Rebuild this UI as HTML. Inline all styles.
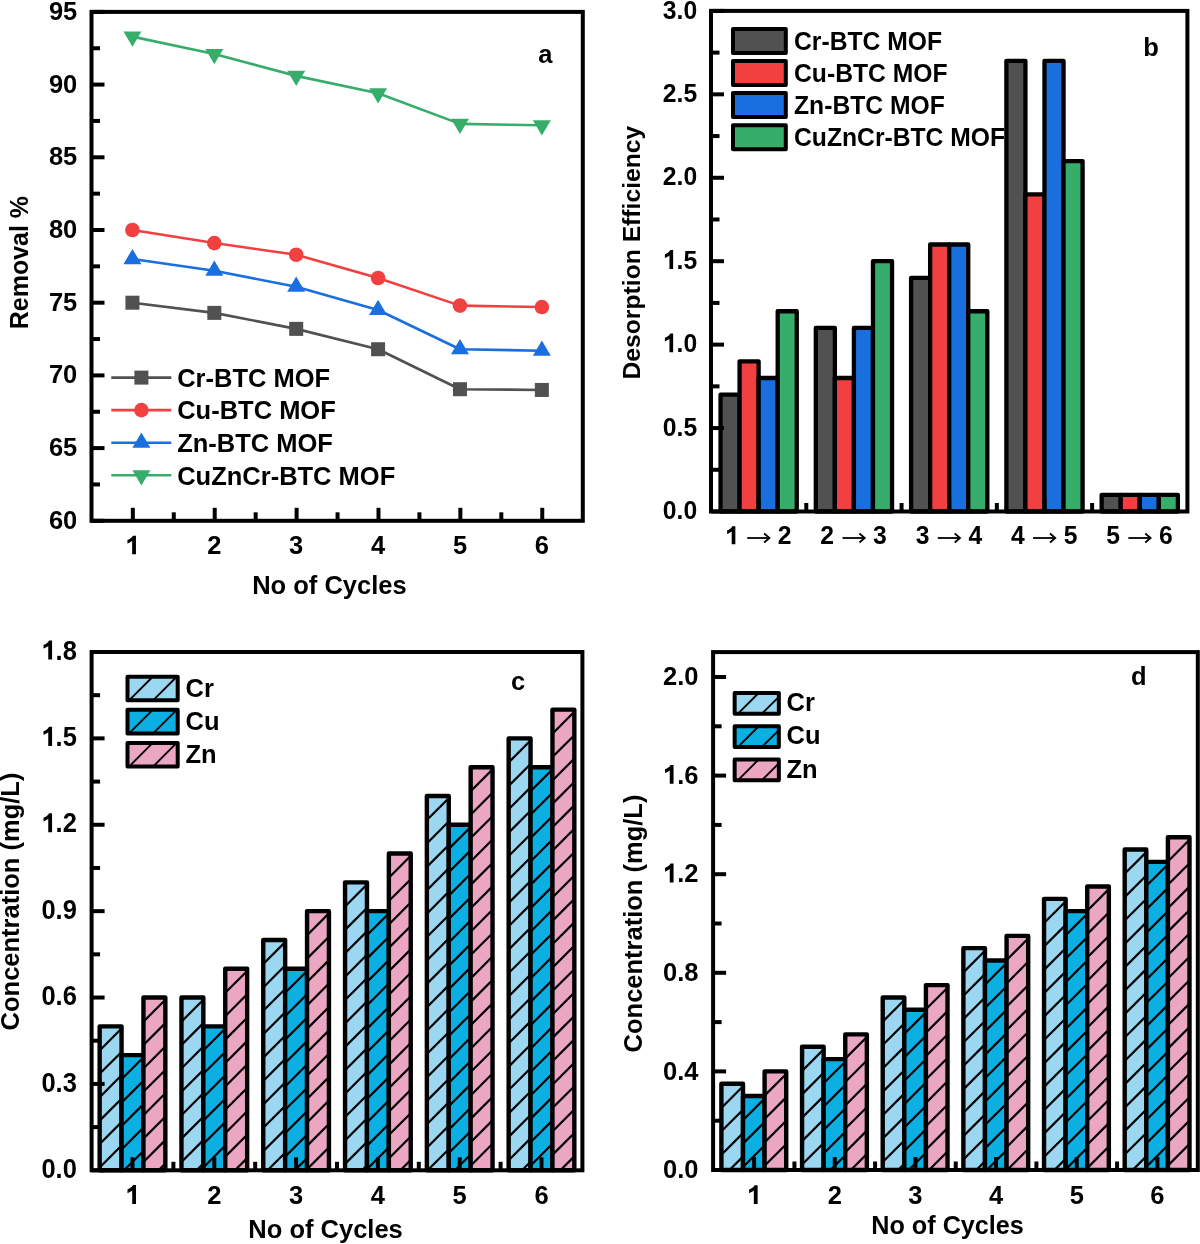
<!DOCTYPE html>
<html><head><meta charset="utf-8"><title>Figure</title>
<style>
html,body{margin:0;padding:0;background:#fff;}
body{width:1200px;height:1244px;overflow:hidden;font-family:"Liberation Sans",sans-serif;}
svg{display:block;will-change:transform;}
</style></head><body>
<svg width="1200" height="1244" viewBox="0 0 1200 1244">
<rect x="0" y="0" width="1200" height="1244" fill="#fff"/>
<line x1="91.5" y1="520.8" x2="104.5" y2="520.8" stroke="#000" stroke-width="4" stroke-linecap="butt"/>
<line x1="91.5" y1="448.1" x2="104.5" y2="448.1" stroke="#000" stroke-width="4" stroke-linecap="butt"/>
<line x1="91.5" y1="375.4" x2="104.5" y2="375.4" stroke="#000" stroke-width="4" stroke-linecap="butt"/>
<line x1="91.5" y1="302.7" x2="104.5" y2="302.7" stroke="#000" stroke-width="4" stroke-linecap="butt"/>
<line x1="91.5" y1="230" x2="104.5" y2="230" stroke="#000" stroke-width="4" stroke-linecap="butt"/>
<line x1="91.5" y1="157.3" x2="104.5" y2="157.3" stroke="#000" stroke-width="4" stroke-linecap="butt"/>
<line x1="91.5" y1="84.6" x2="104.5" y2="84.6" stroke="#000" stroke-width="4" stroke-linecap="butt"/>
<line x1="91.5" y1="11.9" x2="104.5" y2="11.9" stroke="#000" stroke-width="4" stroke-linecap="butt"/>
<line x1="91.5" y1="484.45" x2="100" y2="484.45" stroke="#000" stroke-width="4" stroke-linecap="butt"/>
<line x1="91.5" y1="411.75" x2="100" y2="411.75" stroke="#000" stroke-width="4" stroke-linecap="butt"/>
<line x1="91.5" y1="339.05" x2="100" y2="339.05" stroke="#000" stroke-width="4" stroke-linecap="butt"/>
<line x1="91.5" y1="266.35" x2="100" y2="266.35" stroke="#000" stroke-width="4" stroke-linecap="butt"/>
<line x1="91.5" y1="193.65" x2="100" y2="193.65" stroke="#000" stroke-width="4" stroke-linecap="butt"/>
<line x1="91.5" y1="120.95" x2="100" y2="120.95" stroke="#000" stroke-width="4" stroke-linecap="butt"/>
<line x1="91.5" y1="48.25" x2="100" y2="48.25" stroke="#000" stroke-width="4" stroke-linecap="butt"/>
<line x1="132.84" y1="520.8" x2="132.84" y2="507.8" stroke="#000" stroke-width="4" stroke-linecap="butt"/>
<line x1="214.72" y1="520.8" x2="214.72" y2="507.8" stroke="#000" stroke-width="4" stroke-linecap="butt"/>
<line x1="296.61" y1="520.8" x2="296.61" y2="507.8" stroke="#000" stroke-width="4" stroke-linecap="butt"/>
<line x1="378.49" y1="520.8" x2="378.49" y2="507.8" stroke="#000" stroke-width="4" stroke-linecap="butt"/>
<line x1="460.37" y1="520.8" x2="460.37" y2="507.8" stroke="#000" stroke-width="4" stroke-linecap="butt"/>
<line x1="542.26" y1="520.8" x2="542.26" y2="507.8" stroke="#000" stroke-width="4" stroke-linecap="butt"/>
<line x1="173.78" y1="520.8" x2="173.78" y2="512.3" stroke="#000" stroke-width="4" stroke-linecap="butt"/>
<line x1="255.67" y1="520.8" x2="255.67" y2="512.3" stroke="#000" stroke-width="4" stroke-linecap="butt"/>
<line x1="337.55" y1="520.8" x2="337.55" y2="512.3" stroke="#000" stroke-width="4" stroke-linecap="butt"/>
<line x1="419.43" y1="520.8" x2="419.43" y2="512.3" stroke="#000" stroke-width="4" stroke-linecap="butt"/>
<line x1="501.32" y1="520.8" x2="501.32" y2="512.3" stroke="#000" stroke-width="4" stroke-linecap="butt"/>
<polyline points="132.44,302.7 214.32,312.88 296.21,328.87 378.09,349.23 459.97,389.21 541.86,389.94" fill="none" stroke="#515151" stroke-width="2.6" stroke-linejoin="round"/>
<rect x="125.44" y="295.7" width="14" height="14" fill="#515151"/>
<rect x="207.32" y="305.88" width="14" height="14" fill="#515151"/>
<rect x="289.21" y="321.87" width="14" height="14" fill="#515151"/>
<rect x="371.09" y="342.23" width="14" height="14" fill="#515151"/>
<rect x="452.97" y="382.21" width="14" height="14" fill="#515151"/>
<rect x="534.86" y="382.94" width="14" height="14" fill="#515151"/>
<polyline points="132.44,230 214.32,243.09 296.21,254.72 378.09,277.98 459.97,305.61 541.86,307.06" fill="none" stroke="#F14040" stroke-width="2.6" stroke-linejoin="round"/>
<circle cx="132.44" cy="230" r="7.3" fill="#F14040"/>
<circle cx="214.32" cy="243.09" r="7.3" fill="#F14040"/>
<circle cx="296.21" cy="254.72" r="7.3" fill="#F14040"/>
<circle cx="378.09" cy="277.98" r="7.3" fill="#F14040"/>
<circle cx="459.97" cy="305.61" r="7.3" fill="#F14040"/>
<circle cx="541.86" cy="307.06" r="7.3" fill="#F14040"/>
<polyline points="132.44,259.08 214.32,270.71 296.21,286.71 378.09,309.97 459.97,349.23 541.86,350.68" fill="none" stroke="#1A6FDF" stroke-width="2.6" stroke-linejoin="round"/>
<path d="M132.44 248.88L141.44 264.18L123.44 264.18Z" fill="#1A6FDF"/>
<path d="M214.32 260.51L223.32 275.81L205.32 275.81Z" fill="#1A6FDF"/>
<path d="M296.21 276.51L305.21 291.81L287.21 291.81Z" fill="#1A6FDF"/>
<path d="M378.09 299.77L387.09 315.07L369.09 315.07Z" fill="#1A6FDF"/>
<path d="M459.97 339.03L468.97 354.33L450.97 354.33Z" fill="#1A6FDF"/>
<path d="M541.86 340.48L550.86 355.78L532.86 355.78Z" fill="#1A6FDF"/>
<polyline points="132.44,36.62 214.32,54.07 296.21,75.88 378.09,93.32 459.97,123.86 541.86,125.31" fill="none" stroke="#37AD6B" stroke-width="2.6" stroke-linejoin="round"/>
<path d="M132.44 46.82L141.44 31.52L123.44 31.52Z" fill="#37AD6B"/>
<path d="M214.32 64.27L223.32 48.97L205.32 48.97Z" fill="#37AD6B"/>
<path d="M296.21 86.08L305.21 70.78L287.21 70.78Z" fill="#37AD6B"/>
<path d="M378.09 103.52L387.09 88.22L369.09 88.22Z" fill="#37AD6B"/>
<path d="M459.97 134.06L468.97 118.76L450.97 118.76Z" fill="#37AD6B"/>
<path d="M541.86 135.51L550.86 120.21L532.86 120.21Z" fill="#37AD6B"/>
<rect x="91.5" y="11.9" width="491.3" height="508.9" fill="none" stroke="#000" stroke-width="4" stroke-linejoin="miter"/>
<line x1="111.3" y1="377.6" x2="171.3" y2="377.6" stroke="#515151" stroke-width="2.6" stroke-linecap="butt"/>
<rect x="134.4" y="370.6" width="14" height="14" fill="#515151"/>
<text transform="translate(177.2 386.9) scale(1 1.03)" font-size="25.5" font-family="Liberation Sans" font-weight="bold">Cr-BTC MOF</text>
<line x1="111.3" y1="410.15" x2="171.3" y2="410.15" stroke="#F14040" stroke-width="2.6" stroke-linecap="butt"/>
<circle cx="141.4" cy="410.15" r="7.3" fill="#F14040"/>
<text transform="translate(177.2 419.45) scale(1 1.03)" font-size="25.5" font-family="Liberation Sans" font-weight="bold">Cu-BTC MOF</text>
<line x1="111.3" y1="442.7" x2="171.3" y2="442.7" stroke="#1A6FDF" stroke-width="2.6" stroke-linecap="butt"/>
<path d="M141.4 432.5L150.4 447.8L132.4 447.8Z" fill="#1A6FDF"/>
<text transform="translate(177.2 452) scale(1 1.03)" font-size="25.5" font-family="Liberation Sans" font-weight="bold">Zn-BTC MOF</text>
<line x1="111.3" y1="475.25" x2="171.3" y2="475.25" stroke="#37AD6B" stroke-width="2.6" stroke-linecap="butt"/>
<path d="M141.4 485.45L150.4 470.15L132.4 470.15Z" fill="#37AD6B"/>
<text transform="translate(177.2 484.55) scale(1 1.03)" font-size="25.5" font-family="Liberation Sans" font-weight="bold">CuZnCr-BTC MOF</text>
<text transform="translate(48.94 528.8) scale(1 1.015)" font-size="25.5" font-family="Liberation Sans" font-weight="bold">60</text>
<text transform="translate(48.94 456.1) scale(1 1.015)" font-size="25.5" font-family="Liberation Sans" font-weight="bold">65</text>
<text transform="translate(48.94 383.4) scale(1 1.015)" font-size="25.5" font-family="Liberation Sans" font-weight="bold">70</text>
<text transform="translate(48.94 310.7) scale(1 1.015)" font-size="25.5" font-family="Liberation Sans" font-weight="bold">75</text>
<text transform="translate(48.94 238) scale(1 1.015)" font-size="25.5" font-family="Liberation Sans" font-weight="bold">80</text>
<text transform="translate(48.94 165.3) scale(1 1.015)" font-size="25.5" font-family="Liberation Sans" font-weight="bold">85</text>
<text transform="translate(48.94 92.6) scale(1 1.015)" font-size="25.5" font-family="Liberation Sans" font-weight="bold">90</text>
<text transform="translate(48.94 19.9) scale(1 1.015)" font-size="25.5" font-family="Liberation Sans" font-weight="bold">95</text>
<text transform="translate(125.35 554.2) scale(1 1.015)" font-size="25.5" font-family="Liberation Sans" font-weight="bold"> </text><path transform="translate(132.44 554.2) scale(25.5 25.8825)" d="M-0.011 0L0.138 0L0.138 -0.716L0.02 -0.716C-0.02 -0.64 -0.10 -0.585 -0.196 -0.55L-0.196 -0.41C-0.12 -0.44 -0.05 -0.48 -0.011 -0.51Z"/>
<text transform="translate(207.23 554.2) scale(1 1.015)" font-size="25.5" font-family="Liberation Sans" font-weight="bold">2</text>
<text transform="translate(289.12 554.2) scale(1 1.015)" font-size="25.5" font-family="Liberation Sans" font-weight="bold">3</text>
<text transform="translate(371 554.2) scale(1 1.015)" font-size="25.5" font-family="Liberation Sans" font-weight="bold">4</text>
<text transform="translate(452.88 554.2) scale(1 1.015)" font-size="25.5" font-family="Liberation Sans" font-weight="bold">5</text>
<text transform="translate(534.77 554.2) scale(1 1.015)" font-size="25.5" font-family="Liberation Sans" font-weight="bold">6</text>
<text transform="translate(252.2 593.9) scale(1 1)" font-size="25.5" font-family="Liberation Sans" font-weight="bold">No of Cycles</text>
<g transform="translate(28.2 329.3) rotate(-90)"><text transform="translate(0 0) scale(1 1)" font-size="25" font-family="Liberation Sans" font-weight="bold">Removal %</text></g>
<text transform="translate(538.2 63.3) scale(1 1)" font-size="25.5" font-family="Liberation Sans" font-weight="bold">a</text>
<rect x="720.53" y="394.69" width="19.06" height="116.81" fill="#515151" stroke="#000" stroke-width="4.3" stroke-linejoin="round"/>
<rect x="739.58" y="361.32" width="19.06" height="150.18" fill="#F14040" stroke="#000" stroke-width="4.3" stroke-linejoin="round"/>
<rect x="758.64" y="378.01" width="19.06" height="133.49" fill="#1A6FDF" stroke="#000" stroke-width="4.3" stroke-linejoin="round"/>
<rect x="777.7" y="311.26" width="19.06" height="200.24" fill="#37AD6B" stroke="#000" stroke-width="4.3" stroke-linejoin="round"/>
<rect x="815.81" y="327.95" width="19.06" height="183.55" fill="#515151" stroke="#000" stroke-width="4.3" stroke-linejoin="round"/>
<rect x="834.86" y="378.01" width="19.06" height="133.49" fill="#F14040" stroke="#000" stroke-width="4.3" stroke-linejoin="round"/>
<rect x="853.92" y="327.95" width="19.06" height="183.55" fill="#1A6FDF" stroke="#000" stroke-width="4.3" stroke-linejoin="round"/>
<rect x="872.98" y="261.2" width="19.06" height="250.3" fill="#37AD6B" stroke="#000" stroke-width="4.3" stroke-linejoin="round"/>
<rect x="911.09" y="277.89" width="19.06" height="233.61" fill="#515151" stroke="#000" stroke-width="4.3" stroke-linejoin="round"/>
<rect x="930.14" y="244.51" width="19.06" height="266.99" fill="#F14040" stroke="#000" stroke-width="4.3" stroke-linejoin="round"/>
<rect x="949.2" y="244.51" width="19.06" height="266.99" fill="#1A6FDF" stroke="#000" stroke-width="4.3" stroke-linejoin="round"/>
<rect x="968.26" y="311.26" width="19.06" height="200.24" fill="#37AD6B" stroke="#000" stroke-width="4.3" stroke-linejoin="round"/>
<rect x="1006.37" y="60.96" width="19.06" height="450.54" fill="#515151" stroke="#000" stroke-width="4.3" stroke-linejoin="round"/>
<rect x="1025.42" y="194.45" width="19.06" height="317.05" fill="#F14040" stroke="#000" stroke-width="4.3" stroke-linejoin="round"/>
<rect x="1044.48" y="60.96" width="19.06" height="450.54" fill="#1A6FDF" stroke="#000" stroke-width="4.3" stroke-linejoin="round"/>
<rect x="1063.54" y="161.08" width="19.06" height="350.42" fill="#37AD6B" stroke="#000" stroke-width="4.3" stroke-linejoin="round"/>
<rect x="1101.65" y="494.81" width="19.06" height="16.69" fill="#515151" stroke="#000" stroke-width="4.3" stroke-linejoin="round"/>
<rect x="1120.7" y="494.81" width="19.06" height="16.69" fill="#F14040" stroke="#000" stroke-width="4.3" stroke-linejoin="round"/>
<rect x="1139.76" y="494.81" width="19.06" height="16.69" fill="#1A6FDF" stroke="#000" stroke-width="4.3" stroke-linejoin="round"/>
<rect x="1158.82" y="494.81" width="19.06" height="16.69" fill="#37AD6B" stroke="#000" stroke-width="4.3" stroke-linejoin="round"/>
<line x1="711" y1="511.5" x2="724" y2="511.5" stroke="#000" stroke-width="4" stroke-linecap="butt"/>
<line x1="711" y1="428.07" x2="724" y2="428.07" stroke="#000" stroke-width="4" stroke-linecap="butt"/>
<line x1="711" y1="344.63" x2="724" y2="344.63" stroke="#000" stroke-width="4" stroke-linecap="butt"/>
<line x1="711" y1="261.2" x2="724" y2="261.2" stroke="#000" stroke-width="4" stroke-linecap="butt"/>
<line x1="711" y1="177.77" x2="724" y2="177.77" stroke="#000" stroke-width="4" stroke-linecap="butt"/>
<line x1="711" y1="94.33" x2="724" y2="94.33" stroke="#000" stroke-width="4" stroke-linecap="butt"/>
<line x1="711" y1="10.9" x2="724" y2="10.9" stroke="#000" stroke-width="4" stroke-linecap="butt"/>
<line x1="711" y1="469.78" x2="719.5" y2="469.78" stroke="#000" stroke-width="4" stroke-linecap="butt"/>
<line x1="711" y1="386.35" x2="719.5" y2="386.35" stroke="#000" stroke-width="4" stroke-linecap="butt"/>
<line x1="711" y1="302.92" x2="719.5" y2="302.92" stroke="#000" stroke-width="4" stroke-linecap="butt"/>
<line x1="711" y1="219.48" x2="719.5" y2="219.48" stroke="#000" stroke-width="4" stroke-linecap="butt"/>
<line x1="711" y1="136.05" x2="719.5" y2="136.05" stroke="#000" stroke-width="4" stroke-linecap="butt"/>
<line x1="711" y1="52.62" x2="719.5" y2="52.62" stroke="#000" stroke-width="4" stroke-linecap="butt"/>
<line x1="758.64" y1="511.5" x2="758.64" y2="498.5" stroke="#000" stroke-width="4" stroke-linecap="butt"/>
<line x1="853.92" y1="511.5" x2="853.92" y2="498.5" stroke="#000" stroke-width="4" stroke-linecap="butt"/>
<line x1="949.2" y1="511.5" x2="949.2" y2="498.5" stroke="#000" stroke-width="4" stroke-linecap="butt"/>
<line x1="1044.48" y1="511.5" x2="1044.48" y2="498.5" stroke="#000" stroke-width="4" stroke-linecap="butt"/>
<line x1="1139.76" y1="511.5" x2="1139.76" y2="498.5" stroke="#000" stroke-width="4" stroke-linecap="butt"/>
<line x1="806.28" y1="511.5" x2="806.28" y2="503" stroke="#000" stroke-width="4" stroke-linecap="butt"/>
<line x1="901.56" y1="511.5" x2="901.56" y2="503" stroke="#000" stroke-width="4" stroke-linecap="butt"/>
<line x1="996.84" y1="511.5" x2="996.84" y2="503" stroke="#000" stroke-width="4" stroke-linecap="butt"/>
<line x1="1092.12" y1="511.5" x2="1092.12" y2="503" stroke="#000" stroke-width="4" stroke-linecap="butt"/>
<rect x="711" y="10.9" width="476.4" height="500.6" fill="none" stroke="#000" stroke-width="4" stroke-linejoin="miter"/>
<rect x="733" y="28.9" width="52.8" height="24" fill="#515151" stroke="#000" stroke-width="4" stroke-linejoin="round"/>
<text transform="translate(794 49.6) scale(1 1.065)" font-size="24.7" font-family="Liberation Sans" font-weight="bold">Cr-BTC MOF</text>
<rect x="733" y="61" width="52.8" height="24" fill="#F14040" stroke="#000" stroke-width="4" stroke-linejoin="round"/>
<text transform="translate(794 81.7) scale(1 1.065)" font-size="24.7" font-family="Liberation Sans" font-weight="bold">Cu-BTC MOF</text>
<rect x="733" y="93.1" width="52.8" height="24" fill="#1A6FDF" stroke="#000" stroke-width="4" stroke-linejoin="round"/>
<text transform="translate(794 113.8) scale(1 1.065)" font-size="24.7" font-family="Liberation Sans" font-weight="bold">Zn-BTC MOF</text>
<rect x="733" y="125.2" width="52.8" height="24" fill="#37AD6B" stroke="#000" stroke-width="4" stroke-linejoin="round"/>
<text transform="translate(794 145.9) scale(1 1.065)" font-size="24.7" font-family="Liberation Sans" font-weight="bold">CuZnCr-BTC MOF</text>
<text transform="translate(662.86 519.2) scale(1 1.07)" font-size="24.7" font-family="Liberation Sans" font-weight="bold">0.0</text>
<text transform="translate(662.86 435.77) scale(1 1.07)" font-size="24.7" font-family="Liberation Sans" font-weight="bold">0.5</text>
<text transform="translate(662.86 352.33) scale(1 1.07)" font-size="24.7" font-family="Liberation Sans" font-weight="bold"> .0</text><path transform="translate(669.73 352.33) scale(24.7 26.429)" d="M-0.011 0L0.138 0L0.138 -0.716L0.02 -0.716C-0.02 -0.64 -0.10 -0.585 -0.196 -0.55L-0.196 -0.41C-0.12 -0.44 -0.05 -0.48 -0.011 -0.51Z"/>
<text transform="translate(662.86 268.9) scale(1 1.07)" font-size="24.7" font-family="Liberation Sans" font-weight="bold"> .5</text><path transform="translate(669.73 268.9) scale(24.7 26.429)" d="M-0.011 0L0.138 0L0.138 -0.716L0.02 -0.716C-0.02 -0.64 -0.10 -0.585 -0.196 -0.55L-0.196 -0.41C-0.12 -0.44 -0.05 -0.48 -0.011 -0.51Z"/>
<text transform="translate(662.86 185.47) scale(1 1.07)" font-size="24.7" font-family="Liberation Sans" font-weight="bold">2.0</text>
<text transform="translate(662.86 102.03) scale(1 1.07)" font-size="24.7" font-family="Liberation Sans" font-weight="bold">2.5</text>
<text transform="translate(662.86 18.6) scale(1 1.07)" font-size="24.7" font-family="Liberation Sans" font-weight="bold">3.0</text>
<text transform="translate(725.07 544.3) scale(1 1.02)" font-size="24.7" font-family="Liberation Sans" font-weight="bold"> </text><path transform="translate(731.94 544.3) scale(24.7 25.194)" d="M-0.011 0L0.138 0L0.138 -0.716L0.02 -0.716C-0.02 -0.64 -0.10 -0.585 -0.196 -0.55L-0.196 -0.41C-0.12 -0.44 -0.05 -0.48 -0.011 -0.51Z"/>
<text transform="translate(777.82 544.3) scale(1 1.02)" font-size="24.7" font-family="Liberation Sans" font-weight="bold">2</text>
<path d="M747.24 538H769.24" stroke="#000" stroke-width="1.8"/>
<path d="M764.14 533.5L769.44 538L764.14 542.5" stroke="#000" stroke-width="1.8" fill="none" stroke-linejoin="miter"/>
<text transform="translate(820.35 544.3) scale(1 1.02)" font-size="24.7" font-family="Liberation Sans" font-weight="bold">2</text>
<text transform="translate(873.1 544.3) scale(1 1.02)" font-size="24.7" font-family="Liberation Sans" font-weight="bold">3</text>
<path d="M842.52 538H864.52" stroke="#000" stroke-width="1.8"/>
<path d="M859.42 533.5L864.72 538L859.42 542.5" stroke="#000" stroke-width="1.8" fill="none" stroke-linejoin="miter"/>
<text transform="translate(915.63 544.3) scale(1 1.02)" font-size="24.7" font-family="Liberation Sans" font-weight="bold">3</text>
<text transform="translate(968.38 544.3) scale(1 1.02)" font-size="24.7" font-family="Liberation Sans" font-weight="bold">4</text>
<path d="M937.8 538H959.8" stroke="#000" stroke-width="1.8"/>
<path d="M954.7 533.5L960 538L954.7 542.5" stroke="#000" stroke-width="1.8" fill="none" stroke-linejoin="miter"/>
<text transform="translate(1010.91 544.3) scale(1 1.02)" font-size="24.7" font-family="Liberation Sans" font-weight="bold">4</text>
<text transform="translate(1063.66 544.3) scale(1 1.02)" font-size="24.7" font-family="Liberation Sans" font-weight="bold">5</text>
<path d="M1033.08 538H1055.08" stroke="#000" stroke-width="1.8"/>
<path d="M1049.98 533.5L1055.28 538L1049.98 542.5" stroke="#000" stroke-width="1.8" fill="none" stroke-linejoin="miter"/>
<text transform="translate(1106.19 544.3) scale(1 1.02)" font-size="24.7" font-family="Liberation Sans" font-weight="bold">5</text>
<text transform="translate(1158.94 544.3) scale(1 1.02)" font-size="24.7" font-family="Liberation Sans" font-weight="bold">6</text>
<path d="M1128.36 538H1150.36" stroke="#000" stroke-width="1.8"/>
<path d="M1145.26 533.5L1150.56 538L1145.26 542.5" stroke="#000" stroke-width="1.8" fill="none" stroke-linejoin="miter"/>
<g transform="translate(640.4 379.5) rotate(-90)"><text transform="translate(0 0) scale(1 1)" font-size="24.7" font-family="Liberation Sans" font-weight="bold">Desorption Efficiency</text></g>
<text transform="translate(1143.3 56.3) scale(1 1)" font-size="25.5" font-family="Liberation Sans" font-weight="bold">b</text>
<rect x="99.66" y="1026.33" width="21.9" height="143.97" fill="#9BD7F1"/>
<path d="M99.66 1050.43L121.55 1028.53M99.66 1073.83L121.55 1051.93M99.66 1097.23L121.55 1075.33M99.66 1120.63L121.55 1098.73M99.66 1144.03L121.55 1122.13M99.66 1167.43L121.55 1145.53M120.19 1170.3L121.55 1168.93" stroke="#000" stroke-width="2.2" fill="none"/>
<rect x="99.66" y="1026.33" width="21.9" height="143.97" fill="none" stroke="#000" stroke-width="4.4" stroke-linejoin="round"/>
<rect x="121.55" y="1055.12" width="21.9" height="115.18" fill="#0BAFE2"/>
<path d="M121.55 1079.22L143.45 1057.33M121.55 1102.62L143.45 1080.73M121.55 1126.02L143.45 1104.13M121.55 1149.42L143.45 1127.53M124.07 1170.3L143.45 1150.93" stroke="#000" stroke-width="2.2" fill="none"/>
<rect x="121.55" y="1055.12" width="21.9" height="115.18" fill="none" stroke="#000" stroke-width="4.4" stroke-linejoin="round"/>
<rect x="143.45" y="997.53" width="21.9" height="172.77" fill="#EBA6C2"/>
<path d="M143.45 1021.63L165.34 999.74M143.45 1045.03L165.34 1023.14M143.45 1068.43L165.34 1046.54M143.45 1091.83L165.34 1069.94M143.45 1115.23L165.34 1093.34M143.45 1138.63L165.34 1116.74M143.45 1162.03L165.34 1140.14M158.58 1170.3L165.34 1163.54" stroke="#000" stroke-width="2.2" fill="none"/>
<rect x="143.45" y="997.53" width="21.9" height="172.77" fill="none" stroke="#000" stroke-width="4.4" stroke-linejoin="round"/>
<rect x="181.46" y="997.53" width="21.9" height="172.77" fill="#9BD7F1"/>
<path d="M181.46 1021.63L203.35 999.74M181.46 1045.03L203.35 1023.14M181.46 1068.43L203.35 1046.54M181.46 1091.83L203.35 1069.94M181.46 1115.23L203.35 1093.34M181.46 1138.63L203.35 1116.74M181.46 1162.03L203.35 1140.14M196.59 1170.3L203.35 1163.54" stroke="#000" stroke-width="2.2" fill="none"/>
<rect x="181.46" y="997.53" width="21.9" height="172.77" fill="none" stroke="#000" stroke-width="4.4" stroke-linejoin="round"/>
<rect x="203.35" y="1026.33" width="21.9" height="143.97" fill="#0BAFE2"/>
<path d="M203.35 1050.43L225.25 1028.53M203.35 1073.83L225.25 1051.93M203.35 1097.23L225.25 1075.33M203.35 1120.63L225.25 1098.73M203.35 1144.03L225.25 1122.13M203.35 1167.43L225.25 1145.53M223.88 1170.3L225.25 1168.93" stroke="#000" stroke-width="2.2" fill="none"/>
<rect x="203.35" y="1026.33" width="21.9" height="143.97" fill="none" stroke="#000" stroke-width="4.4" stroke-linejoin="round"/>
<rect x="225.25" y="968.74" width="21.9" height="201.56" fill="#EBA6C2"/>
<path d="M225.25 992.84L247.14 970.94M225.25 1016.24L247.14 994.34M225.25 1039.64L247.14 1017.74M225.25 1063.04L247.14 1041.14M225.25 1086.44L247.14 1064.54M225.25 1109.84L247.14 1087.94M225.25 1133.24L247.14 1111.34M225.25 1156.64L247.14 1134.74M234.99 1170.3L247.14 1158.14" stroke="#000" stroke-width="2.2" fill="none"/>
<rect x="225.25" y="968.74" width="21.9" height="201.56" fill="none" stroke="#000" stroke-width="4.4" stroke-linejoin="round"/>
<rect x="263.26" y="939.94" width="21.9" height="230.36" fill="#9BD7F1"/>
<path d="M263.26 964.04L285.15 942.15M263.26 987.44L285.15 965.55M263.26 1010.84L285.15 988.95M263.26 1034.24L285.15 1012.35M263.26 1057.64L285.15 1035.75M263.26 1081.04L285.15 1059.15M263.26 1104.44L285.15 1082.55M263.26 1127.84L285.15 1105.95M263.26 1151.24L285.15 1129.35M267.6 1170.3L285.15 1152.75" stroke="#000" stroke-width="2.2" fill="none"/>
<rect x="263.26" y="939.94" width="21.9" height="230.36" fill="none" stroke="#000" stroke-width="4.4" stroke-linejoin="round"/>
<rect x="285.15" y="968.74" width="21.9" height="201.56" fill="#0BAFE2"/>
<path d="M285.15 992.84L307.05 970.94M285.15 1016.24L307.05 994.34M285.15 1039.64L307.05 1017.74M285.15 1063.04L307.05 1041.14M285.15 1086.44L307.05 1064.54M285.15 1109.84L307.05 1087.94M285.15 1133.24L307.05 1111.34M285.15 1156.64L307.05 1134.74M294.89 1170.3L307.05 1158.14" stroke="#000" stroke-width="2.2" fill="none"/>
<rect x="285.15" y="968.74" width="21.9" height="201.56" fill="none" stroke="#000" stroke-width="4.4" stroke-linejoin="round"/>
<rect x="307.05" y="911.15" width="21.9" height="259.15" fill="#EBA6C2"/>
<path d="M307.05 935.25L328.94 913.35M307.05 958.65L328.94 936.75M307.05 982.05L328.94 960.15M307.05 1005.45L328.94 983.55M307.05 1028.85L328.94 1006.95M307.05 1052.25L328.94 1030.35M307.05 1075.65L328.94 1053.75M307.05 1099.05L328.94 1077.15M307.05 1122.45L328.94 1100.55M307.05 1145.85L328.94 1123.95M307.05 1169.25L328.94 1147.35" stroke="#000" stroke-width="2.2" fill="none"/>
<rect x="307.05" y="911.15" width="21.9" height="259.15" fill="none" stroke="#000" stroke-width="4.4" stroke-linejoin="round"/>
<rect x="345.06" y="882.36" width="21.9" height="287.94" fill="#9BD7F1"/>
<path d="M345.06 906.46L366.95 884.56M345.06 929.86L366.95 907.96M345.06 953.26L366.95 931.36M345.06 976.66L366.95 954.76M345.06 1000.06L366.95 978.16M345.06 1023.46L366.95 1001.56M345.06 1046.86L366.95 1024.96M345.06 1070.26L366.95 1048.36M345.06 1093.66L366.95 1071.76M345.06 1117.06L366.95 1095.16M345.06 1140.46L366.95 1118.56M345.06 1163.86L366.95 1141.96M362.01 1170.3L366.95 1165.36" stroke="#000" stroke-width="2.2" fill="none"/>
<rect x="345.06" y="882.36" width="21.9" height="287.94" fill="none" stroke="#000" stroke-width="4.4" stroke-linejoin="round"/>
<rect x="366.95" y="911.15" width="21.9" height="259.15" fill="#0BAFE2"/>
<path d="M366.95 935.25L388.85 913.35M366.95 958.65L388.85 936.75M366.95 982.05L388.85 960.15M366.95 1005.45L388.85 983.55M366.95 1028.85L388.85 1006.95M366.95 1052.25L388.85 1030.35M366.95 1075.65L388.85 1053.75M366.95 1099.05L388.85 1077.15M366.95 1122.45L388.85 1100.55M366.95 1145.85L388.85 1123.95M366.95 1169.25L388.85 1147.35" stroke="#000" stroke-width="2.2" fill="none"/>
<rect x="366.95" y="911.15" width="21.9" height="259.15" fill="none" stroke="#000" stroke-width="4.4" stroke-linejoin="round"/>
<rect x="388.85" y="853.56" width="21.9" height="316.74" fill="#EBA6C2"/>
<path d="M388.85 877.66L410.74 855.77M388.85 901.06L410.74 879.17M388.85 924.46L410.74 902.57M388.85 947.86L410.74 925.97M388.85 971.26L410.74 949.37M388.85 994.66L410.74 972.77M388.85 1018.06L410.74 996.17M388.85 1041.46L410.74 1019.57M388.85 1064.86L410.74 1042.97M388.85 1088.26L410.74 1066.37M388.85 1111.66L410.74 1089.77M388.85 1135.06L410.74 1113.17M388.85 1158.46L410.74 1136.57M400.41 1170.3L410.74 1159.97" stroke="#000" stroke-width="2.2" fill="none"/>
<rect x="388.85" y="853.56" width="21.9" height="316.74" fill="none" stroke="#000" stroke-width="4.4" stroke-linejoin="round"/>
<rect x="426.86" y="795.97" width="21.9" height="374.33" fill="#9BD7F1"/>
<path d="M426.86 820.07L448.75 798.18M426.86 843.47L448.75 821.58M426.86 866.87L448.75 844.98M426.86 890.27L448.75 868.38M426.86 913.67L448.75 891.78M426.86 937.07L448.75 915.18M426.86 960.47L448.75 938.58M426.86 983.87L448.75 961.98M426.86 1007.27L448.75 985.38M426.86 1030.67L448.75 1008.78M426.86 1054.07L448.75 1032.18M426.86 1077.47L448.75 1055.58M426.86 1100.87L448.75 1078.98M426.86 1124.27L448.75 1102.38M426.86 1147.67L448.75 1125.78M427.63 1170.3L448.75 1149.18" stroke="#000" stroke-width="2.2" fill="none"/>
<rect x="426.86" y="795.97" width="21.9" height="374.33" fill="none" stroke="#000" stroke-width="4.4" stroke-linejoin="round"/>
<rect x="448.75" y="824.77" width="21.9" height="345.53" fill="#0BAFE2"/>
<path d="M448.75 848.87L470.65 826.97M448.75 872.27L470.65 850.37M448.75 895.67L470.65 873.77M448.75 919.07L470.65 897.17M448.75 942.47L470.65 920.57M448.75 965.87L470.65 943.97M448.75 989.27L470.65 967.37M448.75 1012.67L470.65 990.77M448.75 1036.07L470.65 1014.17M448.75 1059.47L470.65 1037.57M448.75 1082.87L470.65 1060.97M448.75 1106.27L470.65 1084.37M448.75 1129.67L470.65 1107.77M448.75 1153.07L470.65 1131.17M454.92 1170.3L470.65 1154.57" stroke="#000" stroke-width="2.2" fill="none"/>
<rect x="448.75" y="824.77" width="21.9" height="345.53" fill="none" stroke="#000" stroke-width="4.4" stroke-linejoin="round"/>
<rect x="470.65" y="767.18" width="21.9" height="403.12" fill="#EBA6C2"/>
<path d="M470.65 791.28L492.54 769.38M470.65 814.68L492.54 792.78M470.65 838.08L492.54 816.18M470.65 861.48L492.54 839.58M470.65 884.88L492.54 862.98M470.65 908.28L492.54 886.38M470.65 931.68L492.54 909.78M470.65 955.08L492.54 933.18M470.65 978.48L492.54 956.58M470.65 1001.88L492.54 979.98M470.65 1025.28L492.54 1003.38M470.65 1048.68L492.54 1026.78M470.65 1072.08L492.54 1050.18M470.65 1095.48L492.54 1073.58M470.65 1118.88L492.54 1096.98M470.65 1142.28L492.54 1120.38M470.65 1165.68L492.54 1143.78M489.43 1170.3L492.54 1167.18" stroke="#000" stroke-width="2.2" fill="none"/>
<rect x="470.65" y="767.18" width="21.9" height="403.12" fill="none" stroke="#000" stroke-width="4.4" stroke-linejoin="round"/>
<rect x="508.66" y="738.38" width="21.9" height="431.92" fill="#9BD7F1"/>
<path d="M508.66 762.48L530.55 740.59M508.66 785.88L530.55 763.99M508.66 809.28L530.55 787.39M508.66 832.68L530.55 810.79M508.66 856.08L530.55 834.19M508.66 879.48L530.55 857.59M508.66 902.88L530.55 880.99M508.66 926.28L530.55 904.39M508.66 949.68L530.55 927.79M508.66 973.08L530.55 951.19M508.66 996.48L530.55 974.59M508.66 1019.88L530.55 997.99M508.66 1043.28L530.55 1021.39M508.66 1066.68L530.55 1044.79M508.66 1090.08L530.55 1068.19M508.66 1113.48L530.55 1091.59M508.66 1136.88L530.55 1114.99M508.66 1160.28L530.55 1138.39M522.04 1170.3L530.55 1161.79" stroke="#000" stroke-width="2.2" fill="none"/>
<rect x="508.66" y="738.38" width="21.9" height="431.92" fill="none" stroke="#000" stroke-width="4.4" stroke-linejoin="round"/>
<rect x="530.55" y="767.18" width="21.9" height="403.12" fill="#0BAFE2"/>
<path d="M530.55 791.28L552.45 769.38M530.55 814.68L552.45 792.78M530.55 838.08L552.45 816.18M530.55 861.48L552.45 839.58M530.55 884.88L552.45 862.98M530.55 908.28L552.45 886.38M530.55 931.68L552.45 909.78M530.55 955.08L552.45 933.18M530.55 978.48L552.45 956.58M530.55 1001.88L552.45 979.98M530.55 1025.28L552.45 1003.38M530.55 1048.68L552.45 1026.78M530.55 1072.08L552.45 1050.18M530.55 1095.48L552.45 1073.58M530.55 1118.88L552.45 1096.98M530.55 1142.28L552.45 1120.38M530.55 1165.68L552.45 1143.78M549.33 1170.3L552.45 1167.18" stroke="#000" stroke-width="2.2" fill="none"/>
<rect x="530.55" y="767.18" width="21.9" height="403.12" fill="none" stroke="#000" stroke-width="4.4" stroke-linejoin="round"/>
<rect x="552.45" y="709.59" width="21.9" height="460.71" fill="#EBA6C2"/>
<path d="M552.45 733.69L574.34 711.79M552.45 757.09L574.34 735.19M552.45 780.49L574.34 758.59M552.45 803.89L574.34 781.99M552.45 827.29L574.34 805.39M552.45 850.69L574.34 828.79M552.45 874.09L574.34 852.19M552.45 897.49L574.34 875.59M552.45 920.89L574.34 898.99M552.45 944.29L574.34 922.39M552.45 967.69L574.34 945.79M552.45 991.09L574.34 969.19M552.45 1014.49L574.34 992.59M552.45 1037.89L574.34 1015.99M552.45 1061.29L574.34 1039.39M552.45 1084.69L574.34 1062.79M552.45 1108.09L574.34 1086.19M552.45 1131.49L574.34 1109.59M552.45 1154.89L574.34 1132.99M560.44 1170.3L574.34 1156.39" stroke="#000" stroke-width="2.2" fill="none"/>
<rect x="552.45" y="709.59" width="21.9" height="460.71" fill="none" stroke="#000" stroke-width="4.4" stroke-linejoin="round"/>
<line x1="91.6" y1="1170.3" x2="104.6" y2="1170.3" stroke="#000" stroke-width="4" stroke-linecap="butt"/>
<line x1="91.6" y1="1083.92" x2="104.6" y2="1083.92" stroke="#000" stroke-width="4" stroke-linecap="butt"/>
<line x1="91.6" y1="997.53" x2="104.6" y2="997.53" stroke="#000" stroke-width="4" stroke-linecap="butt"/>
<line x1="91.6" y1="911.15" x2="104.6" y2="911.15" stroke="#000" stroke-width="4" stroke-linecap="butt"/>
<line x1="91.6" y1="824.77" x2="104.6" y2="824.77" stroke="#000" stroke-width="4" stroke-linecap="butt"/>
<line x1="91.6" y1="738.38" x2="104.6" y2="738.38" stroke="#000" stroke-width="4" stroke-linecap="butt"/>
<line x1="91.6" y1="652" x2="104.6" y2="652" stroke="#000" stroke-width="4" stroke-linecap="butt"/>
<line x1="91.6" y1="1127.11" x2="100.1" y2="1127.11" stroke="#000" stroke-width="4" stroke-linecap="butt"/>
<line x1="91.6" y1="1040.72" x2="100.1" y2="1040.72" stroke="#000" stroke-width="4" stroke-linecap="butt"/>
<line x1="91.6" y1="954.34" x2="100.1" y2="954.34" stroke="#000" stroke-width="4" stroke-linecap="butt"/>
<line x1="91.6" y1="867.96" x2="100.1" y2="867.96" stroke="#000" stroke-width="4" stroke-linecap="butt"/>
<line x1="91.6" y1="781.58" x2="100.1" y2="781.58" stroke="#000" stroke-width="4" stroke-linecap="butt"/>
<line x1="91.6" y1="695.19" x2="100.1" y2="695.19" stroke="#000" stroke-width="4" stroke-linecap="butt"/>
<line x1="132.5" y1="1170.3" x2="132.5" y2="1157.3" stroke="#000" stroke-width="4" stroke-linecap="butt"/>
<line x1="214.3" y1="1170.3" x2="214.3" y2="1157.3" stroke="#000" stroke-width="4" stroke-linecap="butt"/>
<line x1="296.1" y1="1170.3" x2="296.1" y2="1157.3" stroke="#000" stroke-width="4" stroke-linecap="butt"/>
<line x1="377.9" y1="1170.3" x2="377.9" y2="1157.3" stroke="#000" stroke-width="4" stroke-linecap="butt"/>
<line x1="459.7" y1="1170.3" x2="459.7" y2="1157.3" stroke="#000" stroke-width="4" stroke-linecap="butt"/>
<line x1="541.5" y1="1170.3" x2="541.5" y2="1157.3" stroke="#000" stroke-width="4" stroke-linecap="butt"/>
<line x1="173.4" y1="1170.3" x2="173.4" y2="1161.8" stroke="#000" stroke-width="4" stroke-linecap="butt"/>
<line x1="255.2" y1="1170.3" x2="255.2" y2="1161.8" stroke="#000" stroke-width="4" stroke-linecap="butt"/>
<line x1="337" y1="1170.3" x2="337" y2="1161.8" stroke="#000" stroke-width="4" stroke-linecap="butt"/>
<line x1="418.8" y1="1170.3" x2="418.8" y2="1161.8" stroke="#000" stroke-width="4" stroke-linecap="butt"/>
<line x1="500.6" y1="1170.3" x2="500.6" y2="1161.8" stroke="#000" stroke-width="4" stroke-linecap="butt"/>
<rect x="91.6" y="652" width="490.8" height="518.3" fill="none" stroke="#000" stroke-width="4" stroke-linejoin="miter"/>
<rect x="127.5" y="676.75" width="50.2" height="23.6" fill="#9BD7F1"/>
<path d="M129.1 700.35L152.7 676.75M153.1 700.35L176.7 676.75M177.1 700.35L177.7 699.75" stroke="#000" stroke-width="1.9" fill="none"/>
<rect x="127.5" y="676.75" width="50.2" height="23.6" fill="none" stroke="#000" stroke-width="4" stroke-linejoin="round"/>
<text transform="translate(185.5 696.85) scale(1 1.04)" font-size="25.5" font-family="Liberation Sans" font-weight="bold">Cr</text>
<rect x="127.5" y="709.85" width="50.2" height="23.6" fill="#0BAFE2"/>
<path d="M129.1 733.45L152.7 709.85M153.1 733.45L176.7 709.85M177.1 733.45L177.7 732.85" stroke="#000" stroke-width="1.9" fill="none"/>
<rect x="127.5" y="709.85" width="50.2" height="23.6" fill="none" stroke="#000" stroke-width="4" stroke-linejoin="round"/>
<text transform="translate(185.5 729.95) scale(1 1.04)" font-size="25.5" font-family="Liberation Sans" font-weight="bold">Cu</text>
<rect x="127.5" y="742.95" width="50.2" height="23.6" fill="#EBA6C2"/>
<path d="M129.1 766.55L152.7 742.95M153.1 766.55L176.7 742.95M177.1 766.55L177.7 765.95" stroke="#000" stroke-width="1.9" fill="none"/>
<rect x="127.5" y="742.95" width="50.2" height="23.6" fill="none" stroke="#000" stroke-width="4" stroke-linejoin="round"/>
<text transform="translate(185.5 763.05) scale(1 1.04)" font-size="25.5" font-family="Liberation Sans" font-weight="bold">Zn</text>
<text transform="translate(41.45 1177.9) scale(1 1.05)" font-size="25.5" font-family="Liberation Sans" font-weight="bold">0.0</text>
<text transform="translate(41.45 1091.52) scale(1 1.05)" font-size="25.5" font-family="Liberation Sans" font-weight="bold">0.3</text>
<text transform="translate(41.45 1005.13) scale(1 1.05)" font-size="25.5" font-family="Liberation Sans" font-weight="bold">0.6</text>
<text transform="translate(41.45 918.75) scale(1 1.05)" font-size="25.5" font-family="Liberation Sans" font-weight="bold">0.9</text>
<text transform="translate(41.45 832.37) scale(1 1.05)" font-size="25.5" font-family="Liberation Sans" font-weight="bold"> .2</text><path transform="translate(48.54 832.37) scale(25.5 26.775)" d="M-0.011 0L0.138 0L0.138 -0.716L0.02 -0.716C-0.02 -0.64 -0.10 -0.585 -0.196 -0.55L-0.196 -0.41C-0.12 -0.44 -0.05 -0.48 -0.011 -0.51Z"/>
<text transform="translate(41.45 745.98) scale(1 1.05)" font-size="25.5" font-family="Liberation Sans" font-weight="bold"> .5</text><path transform="translate(48.54 745.98) scale(25.5 26.775)" d="M-0.011 0L0.138 0L0.138 -0.716L0.02 -0.716C-0.02 -0.64 -0.10 -0.585 -0.196 -0.55L-0.196 -0.41C-0.12 -0.44 -0.05 -0.48 -0.011 -0.51Z"/>
<text transform="translate(41.45 659.6) scale(1 1.05)" font-size="25.5" font-family="Liberation Sans" font-weight="bold"> .8</text><path transform="translate(48.54 659.6) scale(25.5 26.775)" d="M-0.011 0L0.138 0L0.138 -0.716L0.02 -0.716C-0.02 -0.64 -0.10 -0.585 -0.196 -0.55L-0.196 -0.41C-0.12 -0.44 -0.05 -0.48 -0.011 -0.51Z"/>
<text transform="translate(125.41 1204.1) scale(1 1.04)" font-size="25.5" font-family="Liberation Sans" font-weight="bold"> </text><path transform="translate(132.5 1204.1) scale(25.5 26.52)" d="M-0.011 0L0.138 0L0.138 -0.716L0.02 -0.716C-0.02 -0.64 -0.10 -0.585 -0.196 -0.55L-0.196 -0.41C-0.12 -0.44 -0.05 -0.48 -0.011 -0.51Z"/>
<text transform="translate(207.21 1204.1) scale(1 1.04)" font-size="25.5" font-family="Liberation Sans" font-weight="bold">2</text>
<text transform="translate(289.01 1204.1) scale(1 1.04)" font-size="25.5" font-family="Liberation Sans" font-weight="bold">3</text>
<text transform="translate(370.81 1204.1) scale(1 1.04)" font-size="25.5" font-family="Liberation Sans" font-weight="bold">4</text>
<text transform="translate(452.61 1204.1) scale(1 1.04)" font-size="25.5" font-family="Liberation Sans" font-weight="bold">5</text>
<text transform="translate(534.41 1204.1) scale(1 1.04)" font-size="25.5" font-family="Liberation Sans" font-weight="bold">6</text>
<text transform="translate(248.3 1238) scale(1 1)" font-size="25.5" font-family="Liberation Sans" font-weight="bold">No of Cycles</text>
<g transform="translate(19.3 1030.4) rotate(-90)"><text transform="translate(0 0) scale(1 1)" font-size="25.5" font-family="Liberation Sans" font-weight="bold">Concentration (mg/L)</text></g>
<text transform="translate(511 689.8) scale(1 1)" font-size="25.5" font-family="Liberation Sans" font-weight="bold">c</text>
<rect x="721.4" y="1083.72" width="21.6" height="86.28" fill="#9BD7F1"/>
<path d="M721.4 1107.92L743 1086.33M721.4 1131.33L743 1109.73M721.4 1154.73L743 1133.13M729.53 1170L743 1156.53" stroke="#000" stroke-width="2.2" fill="none"/>
<rect x="721.4" y="1083.72" width="21.6" height="86.28" fill="none" stroke="#000" stroke-width="4.4" stroke-linejoin="round"/>
<rect x="743" y="1096.05" width="21.6" height="73.95" fill="#0BAFE2"/>
<path d="M743 1120.25L764.6 1098.65M743 1143.65L764.6 1122.05M743 1167.05L764.6 1145.45M763.45 1170L764.6 1168.85" stroke="#000" stroke-width="2.2" fill="none"/>
<rect x="743" y="1096.05" width="21.6" height="73.95" fill="none" stroke="#000" stroke-width="4.4" stroke-linejoin="round"/>
<rect x="764.6" y="1071.4" width="21.6" height="98.6" fill="#EBA6C2"/>
<path d="M764.6 1095.6L786.2 1074M764.6 1119L786.2 1097.4M764.6 1142.4L786.2 1120.8M764.6 1165.8L786.2 1144.2M783.8 1170L786.2 1167.6" stroke="#000" stroke-width="2.2" fill="none"/>
<rect x="764.6" y="1071.4" width="21.6" height="98.6" fill="none" stroke="#000" stroke-width="4.4" stroke-linejoin="round"/>
<rect x="802.06" y="1046.75" width="21.6" height="123.25" fill="#9BD7F1"/>
<path d="M802.06 1070.95L823.66 1049.35M802.06 1094.35L823.66 1072.75M802.06 1117.75L823.66 1096.15M802.06 1141.15L823.66 1119.55M802.06 1164.55L823.66 1142.95M820.01 1170L823.66 1166.35" stroke="#000" stroke-width="2.2" fill="none"/>
<rect x="802.06" y="1046.75" width="21.6" height="123.25" fill="none" stroke="#000" stroke-width="4.4" stroke-linejoin="round"/>
<rect x="823.66" y="1059.08" width="21.6" height="110.92" fill="#0BAFE2"/>
<path d="M823.66 1083.28L845.26 1061.68M823.66 1106.68L845.26 1085.08M823.66 1130.08L845.26 1108.48M823.66 1153.48L845.26 1131.88M830.54 1170L845.26 1155.28" stroke="#000" stroke-width="2.2" fill="none"/>
<rect x="823.66" y="1059.08" width="21.6" height="110.92" fill="none" stroke="#000" stroke-width="4.4" stroke-linejoin="round"/>
<rect x="845.26" y="1034.42" width="21.6" height="135.58" fill="#EBA6C2"/>
<path d="M845.26 1058.62L866.86 1037.03M845.26 1082.03L866.86 1060.43M845.26 1105.43L866.86 1083.83M845.26 1128.83L866.86 1107.23M845.26 1152.23L866.86 1130.63M850.89 1170L866.86 1154.03" stroke="#000" stroke-width="2.2" fill="none"/>
<rect x="845.26" y="1034.42" width="21.6" height="135.58" fill="none" stroke="#000" stroke-width="4.4" stroke-linejoin="round"/>
<rect x="882.72" y="997.45" width="21.6" height="172.55" fill="#9BD7F1"/>
<path d="M882.72 1021.65L904.32 1000.05M882.72 1045.05L904.32 1023.45M882.72 1068.45L904.32 1046.85M882.72 1091.85L904.32 1070.25M882.72 1115.25L904.32 1093.65M882.72 1138.65L904.32 1117.05M882.72 1162.05L904.32 1140.45M898.17 1170L904.32 1163.85" stroke="#000" stroke-width="2.2" fill="none"/>
<rect x="882.72" y="997.45" width="21.6" height="172.55" fill="none" stroke="#000" stroke-width="4.4" stroke-linejoin="round"/>
<rect x="904.32" y="1009.77" width="21.6" height="160.23" fill="#0BAFE2"/>
<path d="M904.32 1033.98L925.92 1012.38M904.32 1057.38L925.92 1035.78M904.32 1080.78L925.92 1059.18M904.32 1104.18L925.92 1082.58M904.32 1127.58L925.92 1105.98M904.32 1150.98L925.92 1129.38M908.7 1170L925.92 1152.78" stroke="#000" stroke-width="2.2" fill="none"/>
<rect x="904.32" y="1009.77" width="21.6" height="160.23" fill="none" stroke="#000" stroke-width="4.4" stroke-linejoin="round"/>
<rect x="925.92" y="985.12" width="21.6" height="184.88" fill="#EBA6C2"/>
<path d="M925.92 1009.32L947.52 987.73M925.92 1032.72L947.52 1011.13M925.92 1056.12L947.52 1034.53M925.92 1079.53L947.52 1057.93M925.92 1102.93L947.52 1081.33M925.92 1126.33L947.52 1104.73M925.92 1149.73L947.52 1128.13M929.05 1170L947.52 1151.53" stroke="#000" stroke-width="2.2" fill="none"/>
<rect x="925.92" y="985.12" width="21.6" height="184.88" fill="none" stroke="#000" stroke-width="4.4" stroke-linejoin="round"/>
<rect x="963.38" y="948.15" width="21.6" height="221.85" fill="#9BD7F1"/>
<path d="M963.38 972.35L984.98 950.75M963.38 995.75L984.98 974.15M963.38 1019.15L984.98 997.55M963.38 1042.55L984.98 1020.95M963.38 1065.95L984.98 1044.35M963.38 1089.35L984.98 1067.75M963.38 1112.75L984.98 1091.15M963.38 1136.15L984.98 1114.55M963.38 1159.55L984.98 1137.95M976.33 1170L984.98 1161.35" stroke="#000" stroke-width="2.2" fill="none"/>
<rect x="963.38" y="948.15" width="21.6" height="221.85" fill="none" stroke="#000" stroke-width="4.4" stroke-linejoin="round"/>
<rect x="984.98" y="960.48" width="21.6" height="209.52" fill="#0BAFE2"/>
<path d="M984.98 984.68L1006.58 963.08M984.98 1008.08L1006.58 986.48M984.98 1031.48L1006.58 1009.88M984.98 1054.88L1006.58 1033.28M984.98 1078.28L1006.58 1056.68M984.98 1101.68L1006.58 1080.08M984.98 1125.08L1006.58 1103.48M984.98 1148.48L1006.58 1126.88M986.86 1170L1006.58 1150.28" stroke="#000" stroke-width="2.2" fill="none"/>
<rect x="984.98" y="960.48" width="21.6" height="209.52" fill="none" stroke="#000" stroke-width="4.4" stroke-linejoin="round"/>
<rect x="1006.58" y="935.83" width="21.6" height="234.17" fill="#EBA6C2"/>
<path d="M1006.58 960.03L1028.18 938.43M1006.58 983.43L1028.18 961.83M1006.58 1006.83L1028.18 985.23M1006.58 1030.23L1028.18 1008.63M1006.58 1053.63L1028.18 1032.03M1006.58 1077.03L1028.18 1055.43M1006.58 1100.43L1028.18 1078.83M1006.58 1123.83L1028.18 1102.23M1006.58 1147.23L1028.18 1125.63M1007.21 1170L1028.18 1149.03" stroke="#000" stroke-width="2.2" fill="none"/>
<rect x="1006.58" y="935.83" width="21.6" height="234.17" fill="none" stroke="#000" stroke-width="4.4" stroke-linejoin="round"/>
<rect x="1044.04" y="898.85" width="21.6" height="271.15" fill="#9BD7F1"/>
<path d="M1044.04 923.05L1065.64 901.45M1044.04 946.45L1065.64 924.85M1044.04 969.85L1065.64 948.25M1044.04 993.25L1065.64 971.65M1044.04 1016.65L1065.64 995.05M1044.04 1040.05L1065.64 1018.45M1044.04 1063.45L1065.64 1041.85M1044.04 1086.85L1065.64 1065.25M1044.04 1110.25L1065.64 1088.65M1044.04 1133.65L1065.64 1112.05M1044.04 1157.05L1065.64 1135.45M1054.49 1170L1065.64 1158.85" stroke="#000" stroke-width="2.2" fill="none"/>
<rect x="1044.04" y="898.85" width="21.6" height="271.15" fill="none" stroke="#000" stroke-width="4.4" stroke-linejoin="round"/>
<rect x="1065.64" y="911.17" width="21.6" height="258.83" fill="#0BAFE2"/>
<path d="M1065.64 935.38L1087.24 913.78M1065.64 958.78L1087.24 937.18M1065.64 982.18L1087.24 960.58M1065.64 1005.58L1087.24 983.98M1065.64 1028.98L1087.24 1007.38M1065.64 1052.38L1087.24 1030.78M1065.64 1075.78L1087.24 1054.18M1065.64 1099.18L1087.24 1077.58M1065.64 1122.58L1087.24 1100.98M1065.64 1145.98L1087.24 1124.38M1065.64 1169.38L1087.24 1147.78" stroke="#000" stroke-width="2.2" fill="none"/>
<rect x="1065.64" y="911.17" width="21.6" height="258.83" fill="none" stroke="#000" stroke-width="4.4" stroke-linejoin="round"/>
<rect x="1087.24" y="886.53" width="21.6" height="283.47" fill="#EBA6C2"/>
<path d="M1087.24 910.73L1108.84 889.13M1087.24 934.13L1108.84 912.53M1087.24 957.53L1108.84 935.93M1087.24 980.93L1108.84 959.33M1087.24 1004.33L1108.84 982.73M1087.24 1027.73L1108.84 1006.13M1087.24 1051.13L1108.84 1029.53M1087.24 1074.53L1108.84 1052.93M1087.24 1097.93L1108.84 1076.33M1087.24 1121.33L1108.84 1099.73M1087.24 1144.73L1108.84 1123.13M1087.24 1168.13L1108.84 1146.53M1108.77 1170L1108.84 1169.93" stroke="#000" stroke-width="2.2" fill="none"/>
<rect x="1087.24" y="886.53" width="21.6" height="283.47" fill="none" stroke="#000" stroke-width="4.4" stroke-linejoin="round"/>
<rect x="1124.7" y="849.55" width="21.6" height="320.45" fill="#9BD7F1"/>
<path d="M1124.7 873.75L1146.3 852.15M1124.7 897.15L1146.3 875.55M1124.7 920.55L1146.3 898.95M1124.7 943.95L1146.3 922.35M1124.7 967.35L1146.3 945.75M1124.7 990.75L1146.3 969.15M1124.7 1014.15L1146.3 992.55M1124.7 1037.55L1146.3 1015.95M1124.7 1060.95L1146.3 1039.35M1124.7 1084.35L1146.3 1062.75M1124.7 1107.75L1146.3 1086.15M1124.7 1131.15L1146.3 1109.55M1124.7 1154.55L1146.3 1132.95M1132.65 1170L1146.3 1156.35" stroke="#000" stroke-width="2.2" fill="none"/>
<rect x="1124.7" y="849.55" width="21.6" height="320.45" fill="none" stroke="#000" stroke-width="4.4" stroke-linejoin="round"/>
<rect x="1146.3" y="861.88" width="21.6" height="308.12" fill="#0BAFE2"/>
<path d="M1146.3 886.08L1167.9 864.48M1146.3 909.47L1167.9 887.88M1146.3 932.88L1167.9 911.28M1146.3 956.28L1167.9 934.68M1146.3 979.68L1167.9 958.08M1146.3 1003.08L1167.9 981.48M1146.3 1026.48L1167.9 1004.88M1146.3 1049.88L1167.9 1028.28M1146.3 1073.28L1167.9 1051.68M1146.3 1096.68L1167.9 1075.08M1146.3 1120.08L1167.9 1098.48M1146.3 1143.48L1167.9 1121.88M1146.3 1166.88L1167.9 1145.28M1166.58 1170L1167.9 1168.68" stroke="#000" stroke-width="2.2" fill="none"/>
<rect x="1146.3" y="861.88" width="21.6" height="308.12" fill="none" stroke="#000" stroke-width="4.4" stroke-linejoin="round"/>
<rect x="1167.9" y="837.22" width="21.6" height="332.78" fill="#EBA6C2"/>
<path d="M1167.9 861.42L1189.5 839.83M1167.9 884.82L1189.5 863.22M1167.9 908.22L1189.5 886.62M1167.9 931.62L1189.5 910.03M1167.9 955.03L1189.5 933.43M1167.9 978.43L1189.5 956.83M1167.9 1001.83L1189.5 980.23M1167.9 1025.23L1189.5 1003.63M1167.9 1048.63L1189.5 1027.03M1167.9 1072.03L1189.5 1050.43M1167.9 1095.43L1189.5 1073.83M1167.9 1118.83L1189.5 1097.23M1167.9 1142.23L1189.5 1120.63M1167.9 1165.63L1189.5 1144.03M1186.93 1170L1189.5 1167.43" stroke="#000" stroke-width="2.2" fill="none"/>
<rect x="1167.9" y="837.22" width="21.6" height="332.78" fill="none" stroke="#000" stroke-width="4.4" stroke-linejoin="round"/>
<line x1="713.1" y1="1170" x2="726.1" y2="1170" stroke="#000" stroke-width="4" stroke-linecap="butt"/>
<line x1="713.1" y1="1071.4" x2="726.1" y2="1071.4" stroke="#000" stroke-width="4" stroke-linecap="butt"/>
<line x1="713.1" y1="972.8" x2="726.1" y2="972.8" stroke="#000" stroke-width="4" stroke-linecap="butt"/>
<line x1="713.1" y1="874.2" x2="726.1" y2="874.2" stroke="#000" stroke-width="4" stroke-linecap="butt"/>
<line x1="713.1" y1="775.6" x2="726.1" y2="775.6" stroke="#000" stroke-width="4" stroke-linecap="butt"/>
<line x1="713.1" y1="677" x2="726.1" y2="677" stroke="#000" stroke-width="4" stroke-linecap="butt"/>
<line x1="713.1" y1="1120.7" x2="721.6" y2="1120.7" stroke="#000" stroke-width="4" stroke-linecap="butt"/>
<line x1="713.1" y1="1022.1" x2="721.6" y2="1022.1" stroke="#000" stroke-width="4" stroke-linecap="butt"/>
<line x1="713.1" y1="923.5" x2="721.6" y2="923.5" stroke="#000" stroke-width="4" stroke-linecap="butt"/>
<line x1="713.1" y1="824.9" x2="721.6" y2="824.9" stroke="#000" stroke-width="4" stroke-linecap="butt"/>
<line x1="713.1" y1="726.3" x2="721.6" y2="726.3" stroke="#000" stroke-width="4" stroke-linecap="butt"/>
<line x1="754.1" y1="1170" x2="754.1" y2="1157" stroke="#000" stroke-width="4" stroke-linecap="butt"/>
<line x1="834.76" y1="1170" x2="834.76" y2="1157" stroke="#000" stroke-width="4" stroke-linecap="butt"/>
<line x1="915.42" y1="1170" x2="915.42" y2="1157" stroke="#000" stroke-width="4" stroke-linecap="butt"/>
<line x1="996.08" y1="1170" x2="996.08" y2="1157" stroke="#000" stroke-width="4" stroke-linecap="butt"/>
<line x1="1076.74" y1="1170" x2="1076.74" y2="1157" stroke="#000" stroke-width="4" stroke-linecap="butt"/>
<line x1="1157.4" y1="1170" x2="1157.4" y2="1157" stroke="#000" stroke-width="4" stroke-linecap="butt"/>
<line x1="794.43" y1="1170" x2="794.43" y2="1161.5" stroke="#000" stroke-width="4" stroke-linecap="butt"/>
<line x1="875.09" y1="1170" x2="875.09" y2="1161.5" stroke="#000" stroke-width="4" stroke-linecap="butt"/>
<line x1="955.75" y1="1170" x2="955.75" y2="1161.5" stroke="#000" stroke-width="4" stroke-linecap="butt"/>
<line x1="1036.41" y1="1170" x2="1036.41" y2="1161.5" stroke="#000" stroke-width="4" stroke-linecap="butt"/>
<line x1="1117.07" y1="1170" x2="1117.07" y2="1161.5" stroke="#000" stroke-width="4" stroke-linecap="butt"/>
<rect x="713.1" y="652.1" width="484.7" height="517.9" fill="none" stroke="#000" stroke-width="4" stroke-linejoin="miter"/>
<rect x="734.65" y="693" width="44.2" height="20.85" fill="#9BD7F1"/>
<path d="M737.8 713.85L758.65 693M761.8 713.85L778.85 696.8" stroke="#000" stroke-width="1.9" fill="none"/>
<rect x="734.65" y="693" width="44.2" height="20.85" fill="none" stroke="#000" stroke-width="4" stroke-linejoin="round"/>
<text transform="translate(786.5 711) scale(1 1.03)" font-size="25.5" font-family="Liberation Sans" font-weight="bold">Cr</text>
<rect x="734.65" y="726.25" width="44.2" height="20.85" fill="#0BAFE2"/>
<path d="M737.8 747.1L758.65 726.25M761.8 747.1L778.85 730.05" stroke="#000" stroke-width="1.9" fill="none"/>
<rect x="734.65" y="726.25" width="44.2" height="20.85" fill="none" stroke="#000" stroke-width="4" stroke-linejoin="round"/>
<text transform="translate(786.5 744.25) scale(1 1.03)" font-size="25.5" font-family="Liberation Sans" font-weight="bold">Cu</text>
<rect x="734.65" y="759.5" width="44.2" height="20.85" fill="#EBA6C2"/>
<path d="M737.8 780.35L758.65 759.5M761.8 780.35L778.85 763.3" stroke="#000" stroke-width="1.9" fill="none"/>
<rect x="734.65" y="759.5" width="44.2" height="20.85" fill="none" stroke="#000" stroke-width="4" stroke-linejoin="round"/>
<text transform="translate(786.5 777.5) scale(1 1.03)" font-size="25.5" font-family="Liberation Sans" font-weight="bold">Zn</text>
<text transform="translate(662.95 1178.2) scale(1 1.03)" font-size="25.5" font-family="Liberation Sans" font-weight="bold">0.0</text>
<text transform="translate(662.95 1079.6) scale(1 1.03)" font-size="25.5" font-family="Liberation Sans" font-weight="bold">0.4</text>
<text transform="translate(662.95 981) scale(1 1.03)" font-size="25.5" font-family="Liberation Sans" font-weight="bold">0.8</text>
<text transform="translate(662.95 882.4) scale(1 1.03)" font-size="25.5" font-family="Liberation Sans" font-weight="bold"> .2</text><path transform="translate(670.04 882.4) scale(25.5 26.265)" d="M-0.011 0L0.138 0L0.138 -0.716L0.02 -0.716C-0.02 -0.64 -0.10 -0.585 -0.196 -0.55L-0.196 -0.41C-0.12 -0.44 -0.05 -0.48 -0.011 -0.51Z"/>
<text transform="translate(662.95 783.8) scale(1 1.03)" font-size="25.5" font-family="Liberation Sans" font-weight="bold"> .6</text><path transform="translate(670.04 783.8) scale(25.5 26.265)" d="M-0.011 0L0.138 0L0.138 -0.716L0.02 -0.716C-0.02 -0.64 -0.10 -0.585 -0.196 -0.55L-0.196 -0.41C-0.12 -0.44 -0.05 -0.48 -0.011 -0.51Z"/>
<text transform="translate(662.95 685.2) scale(1 1.03)" font-size="25.5" font-family="Liberation Sans" font-weight="bold">2.0</text>
<text transform="translate(747.01 1204) scale(1 1.03)" font-size="25.5" font-family="Liberation Sans" font-weight="bold"> </text><path transform="translate(754.1 1204) scale(25.5 26.265)" d="M-0.011 0L0.138 0L0.138 -0.716L0.02 -0.716C-0.02 -0.64 -0.10 -0.585 -0.196 -0.55L-0.196 -0.41C-0.12 -0.44 -0.05 -0.48 -0.011 -0.51Z"/>
<text transform="translate(827.67 1204) scale(1 1.03)" font-size="25.5" font-family="Liberation Sans" font-weight="bold">2</text>
<text transform="translate(908.33 1204) scale(1 1.03)" font-size="25.5" font-family="Liberation Sans" font-weight="bold">3</text>
<text transform="translate(988.99 1204) scale(1 1.03)" font-size="25.5" font-family="Liberation Sans" font-weight="bold">4</text>
<text transform="translate(1069.65 1204) scale(1 1.03)" font-size="25.5" font-family="Liberation Sans" font-weight="bold">5</text>
<text transform="translate(1150.31 1204) scale(1 1.03)" font-size="25.5" font-family="Liberation Sans" font-weight="bold">6</text>
<text transform="translate(871.3 1234.4) scale(1 1)" font-size="25.2" font-family="Liberation Sans" font-weight="bold">No of Cycles</text>
<g transform="translate(642.2 1052.4) rotate(-90)"><text transform="translate(0 0) scale(1 1)" font-size="25.5" font-family="Liberation Sans" font-weight="bold">Concentration (mg/L)</text></g>
<text transform="translate(1131 685.2) scale(1 1)" font-size="25.5" font-family="Liberation Sans" font-weight="bold">d</text>
</svg>
</body></html>
